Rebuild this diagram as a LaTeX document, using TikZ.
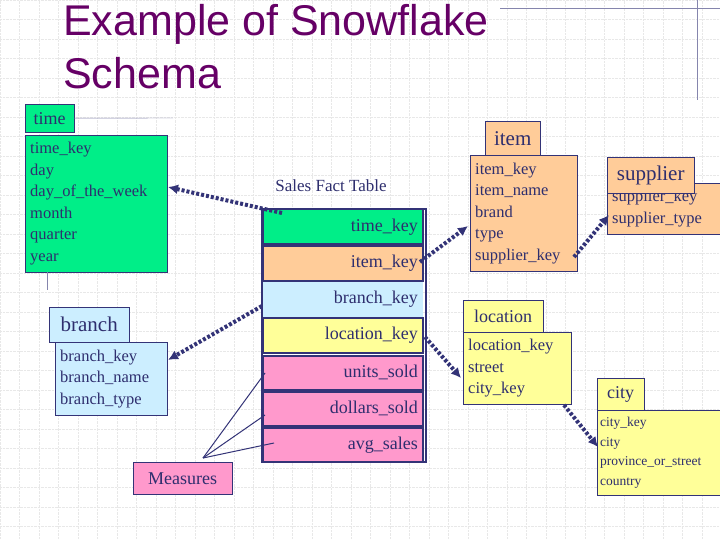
\documentclass[tikz,border=0pt]{standalone}
\usepackage{fontspec}
\setmainfont{Liberation Serif}
\newfontfamily\titlefont{Liberation Sans}
\usetikzlibrary{arrows.meta}
\definecolor{navy}{HTML}{333377}
\definecolor{ink}{HTML}{2E2E6E}
\definecolor{titlepurple}{HTML}{660066}
\definecolor{tgreen}{HTML}{00EE88}
\definecolor{torange}{HTML}{FFCC99}
\definecolor{tblue}{HTML}{CCEEFF}
\definecolor{tyellow}{HTML}{FFFF99}
\definecolor{tpink}{HTML}{FF99CC}
\tikzset{
  tabbox/.style={draw=navy, anchor=north west, inner sep=3pt, text=ink, font=\fontsize{21}{23}\selectfont},
  bodybox/.style={draw=navy, anchor=north west, align=left, inner xsep=5pt, inner ysep=4pt, text=ink, font=\fontsize{16.5}{21.5}\selectfont},
  factrow/.style={anchor=north west, minimum width=160pt, inner sep=0pt, align=right, text=ink,
                  font=\fontsize{18}{20}\selectfont, draw=navy, line width=1.5pt},
  fk/.style={navy, line width=4pt, dash pattern=on 3pt off 2pt, -{Latex[length=10pt,width=10pt]}},
  measline/.style={navy, line width=1pt}
}
\begin{document}
\begin{tikzpicture}[x=1pt,y=-1pt]
  \useasboundingbox (0,0) rectangle (720,540);
  % background grid
  \fill[white] (0,0) rectangle (720,540);
  \draw[gray!18, densely dotted] (0,0) grid[step=19.5pt] (720,540);
  \draw[navy!60] (500,8) -- (720,8);
  \draw[navy!60] (697,0) -- (697,100);

  % title
  \node[anchor=north west, align=left, text=titlepurple, font=\titlefont\fontsize{43}{53}\selectfont, inner sep=0pt] (title) at (63,4) {Example of Snowflake\\Schema};

  % time
  \node[tabbox, fill=tgreen, minimum width=49pt, minimum height=28pt, font=\fontsize{18}{20}\selectfont] (timetab) at (25,104) {time};
  \node[bodybox, fill=tgreen, text width=132pt, minimum height=137pt] (time) at (25,135)
    {time\_key\\day\\day\_of\_the\_week\\month\\quarter\\year};
  \draw[navy!60] (timetab.east) -- (173,118);
  \draw[navy!60] (47,272) -- (47,290);

  % fact table
  \node[anchor=south, text=ink, font=\fontsize{17}{18}\selectfont] (facttitle) at (331,195) {Sales Fact Table};
  \node[factrow, fill=tgreen, minimum height=34pt, text width=150pt] (ftime) at (262,209) {time\_key};
  \node[factrow, fill=torange, minimum height=35pt, text width=150pt] (fitem) at (262,245) {item\_key};
  \node[factrow, fill=tblue, minimum height=35pt, text width=150pt, draw=none] (fbranch) at (262,281) {branch\_key};
  \node[factrow, fill=tyellow, minimum height=35pt, text width=150pt] (flocation) at (262,317) {location\_key};
  \node[factrow, fill=tpink, minimum height=34pt, text width=150pt] (funits) at (262,355) {units\_sold};
  \node[factrow, fill=tpink, minimum height=34pt, text width=150pt] (fdollars) at (262,391) {dollars\_sold};
  \node[factrow, fill=tpink, minimum height=34pt, text width=150pt] (favg) at (262,427) {avg\_sales};
  \draw[navy, line width=1.5pt] (262,209) rectangle (426,462);

  % item
  \node[tabbox, fill=torange, minimum width=55pt, minimum height=34pt] (itemtab) at (485,121) {item};
  \node[bodybox, fill=torange, text width=97pt, minimum height=116pt] (item) at (470,155)
    {item\_key\\item\_name\\brand\\type\\supplier\_key};

  % supplier
  \node[bodybox, fill=torange, text width=108pt, minimum height=51pt] (supplier) at (607,183)
    {supplier\_key\\supplier\_type};
  \node[tabbox, fill=torange, minimum width=87pt, minimum height=36pt] (suppliertab) at (607,157) {supplier};

  % branch
  \node[tabbox, fill=tblue, minimum width=80pt, minimum height=35pt] (branchtab) at (49,307) {branch};
  \node[bodybox, fill=tblue, text width=102pt, minimum height=73pt] (branch) at (55,342)
    {branch\_key\\branch\_name\\branch\_type};

  % location
  \node[tabbox, fill=tyellow, minimum width=80pt, minimum height=32pt, font=\fontsize{18}{20}\selectfont] (locationtab) at (463,300) {location};
  \node[bodybox, fill=tyellow, text width=98pt, minimum height=72pt] (location) at (463,332)
    {location\_key\\street\\city\_key};

  % city
  \node[tabbox, fill=tyellow, minimum width=47pt, minimum height=32pt, font=\fontsize{18}{20}\selectfont] (citytab) at (597,378) {city};
  \node[bodybox, fill=tyellow, text width=124pt, minimum height=85pt, inner xsep=3pt, font=\fontsize{13.5}{19.5}\selectfont] (city) at (597,410)
    {city\_key\\city\\province\_or\_street\\country};

  % measures
  \node[tabbox, fill=tpink, minimum width=99pt, minimum height=32pt, font=\fontsize{18}{20}\selectfont] (measures) at (133,462) {Measures};
  \coordinate (mtop) at (203,458);
  \draw[measline] (mtop) -- (265,373);
  \draw[measline] (mtop) -- (265,415);
  \draw[measline] (mtop) -- (274,443);

  % foreign keys
  \draw[fk] (282,213) -- (168,187);
  \draw[fk] (420,262) -- (468,226);
  \draw[fk] (574,257) -- (609,215);
  \draw[fk] (262,306) -- (168,360);
  \draw[fk] (425,337) -- (461,378);
  \draw[fk] (564,405) -- (598,447);
\end{tikzpicture}
\end{document}
